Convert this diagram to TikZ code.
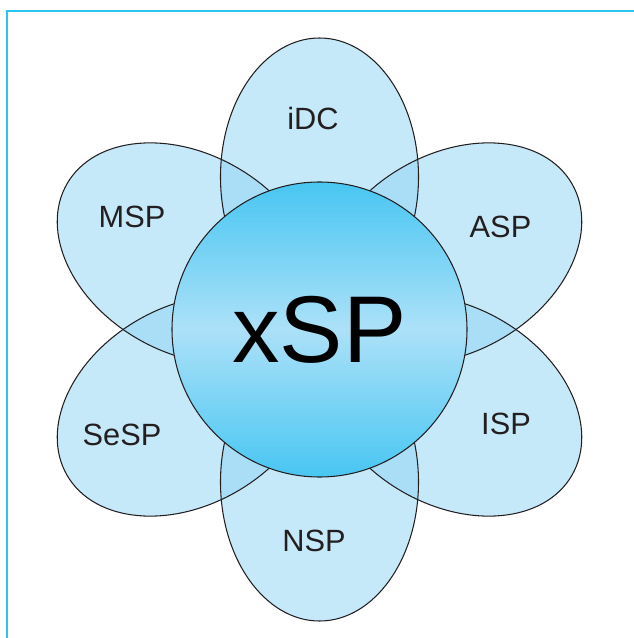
\documentclass[tikz,border=0pt]{standalone}
\usepackage{fontspec}
\setmainfont{Liberation Sans}
\definecolor{framecyan}{RGB}{45,196,240}
\definecolor{petalblue}{RGB}{143,212,245}
\definecolor{hubdark}{RGB}{72,198,242}
\definecolor{hublight}{RGB}{172,225,248}
\definecolor{inkline}{RGB}{35,31,32}
\begin{document}
\begin{tikzpicture}[
    petal/.style={fill=petalblue, fill opacity=0.51},
    rim/.style={draw=inkline, line width=0.6pt},
    hub/.style={circle, draw=inkline, line width=0.6pt, minimum size=5.9cm, inner sep=0pt,
        top color=hubdark, bottom color=hubdark, middle color=hublight, font=\fontsize{54}{54}\selectfont},
    tag/.style={font=\fontsize{17.5}{17.5}\selectfont, text=inkline}
]
    \useasboundingbox (-6.39,-6.17) rectangle (6.29,6.59);

    % frame
    \draw [framecyan, line width=1.6pt] (-6.25,-6.17) -- (-6.25,6.37) -- (6.29,6.37);

    % petals
    \foreach \ang in {90,30,-30,-90,-150,150}
        \fill [petal, rotate=\ang] (3.05,0) ellipse (2.78cm and 1.98cm);
    \foreach \ang in {90,30,-30,-90,-150,150}
        \draw [rim, rotate=\ang] (3.05,0) ellipse (2.78cm and 1.98cm);

    \node [hub] (xsp) at (0,0) {xSP};

    \node [tag] (idc) at (-0.13,4.21) {iDC};
    \node [tag] (asp) at (3.62,2.05) {ASP};
    \node [tag] (isp) at (3.73,-1.88) {ISP};
    \node [tag] (nsp) at (-0.11,-4.23) {NSP};
    \node [tag] (sesp) at (-3.95,-2.11) {SeSP};
    \node [tag] (msp) at (-3.75,2.25) {MSP};

\end{tikzpicture}
\end{document}
